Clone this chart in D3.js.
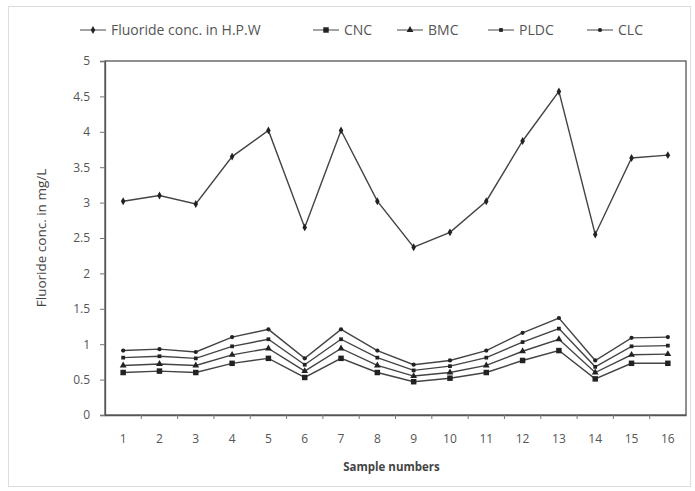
<!DOCTYPE html>
<html>
<head>
<meta charset="utf-8">
<script src="https://cdn.jsdelivr.net/npm/d3@7"></script>
<style>
  body { margin: 0; background: #fff; }
  .chart text { font-family: "Open Sans", "DejaVu Sans", sans-serif; fill: #555; }
</style>
</head>
<body>
<div class="chart"></div>
<script>
// sample numbers along the x axis
var samples = ["1", "2", "3", "4", "5", "6", "7", "8", "9", "10", "11", "12", "13", "14", "15", "16"];

// fluoride values (mg/L)
var hpw  = [3.02, 3.10, 2.98, 3.65, 4.02, 2.65, 4.02, 3.02, 2.37, 2.58, 3.02, 3.87, 4.57, 2.55, 3.63, 3.67];
var cnc  = [0.60, 0.62, 0.60, 0.73, 0.80, 0.53, 0.80, 0.60, 0.47, 0.52, 0.60, 0.77, 0.91, 0.51, 0.73, 0.73];
var bmc  = [0.70, 0.72, 0.70, 0.85, 0.94, 0.62, 0.94, 0.70, 0.55, 0.60, 0.70, 0.90, 1.07, 0.60, 0.85, 0.86];
var pldc = [0.81, 0.83, 0.80, 0.97, 1.07, 0.71, 1.07, 0.81, 0.63, 0.69, 0.81, 1.03, 1.22, 0.68, 0.97, 0.98];
var clc  = [0.91, 0.93, 0.89, 1.10, 1.21, 0.80, 1.21, 0.91, 0.71, 0.77, 0.91, 1.16, 1.37, 0.77, 1.09, 1.10];

var yTicks = [0, 0.5, 1, 1.5, 2, 2.5, 3, 3.5, 4, 4.5, 5];

var series = [
  { name: "Fluoride conc. in H.P.W", values: hpw,  symbol: d3.symbolDiamond,  size: 18 },
  { name: "CNC",  values: cnc,  symbol: d3.symbolSquare,   size: 30 },
  { name: "BMC",  values: bmc,  symbol: d3.symbolTriangle, size: 20 },
  { name: "PLDC", values: pldc, symbol: d3.symbolSquare,   size: 14 },
  { name: "CLC",  values: clc,  symbol: d3.symbolCircle,   size: 14 }
];

var width = 695, height = 491;
var margin = {top: 61, right: 9, bottom: 76, left: 105};
var w = width - margin.left - margin.right,
    h = height - margin.top - margin.bottom;

var svg = d3.select(".chart").append("svg")
  .attr("width", width)
  .attr("height", height);

// outer frame of the figure
svg.append("rect")
  .attr("x", 8.5).attr("y", 6.5)
  .attr("width", 682).attr("height", 480)
  .attr("fill", "#fff")
  .attr("stroke", "#bbb")
  .attr("stroke-dasharray", "1,1");

var g = svg.append("g")
  .attr("transform", "translate(" + margin.left + "," + margin.top + ")");

var x = d3.scaleBand().domain(samples).range([0, w]);
var y = d3.scaleLinear().domain([0, 5]).range([h, 0]);

// plot area border
g.append("rect")
  .attr("width", w).attr("height", h)
  .attr("fill", "none")
  .attr("stroke", "#555")
  .attr("stroke-width", 1.3);

// y axis
var yAxis = g.append("g")
  .call(d3.axisLeft(y).tickValues(yTicks).tickSize(5).tickPadding(10).tickFormat(d3.format("")));
yAxis.select(".domain").attr("stroke", "#555").attr("stroke-width", 1.3);
yAxis.selectAll(".tick line").attr("stroke", "#777");
yAxis.selectAll("text").attr("font-size", 12);

// x axis, ticks sit between the categories
var xAxis = g.append("g")
  .attr("transform", "translate(0," + h + ")")
  .call(d3.axisBottom(x).tickSize(0).tickPadding(19));
xAxis.select(".domain").attr("stroke", "#555").attr("stroke-width", 1.3);
xAxis.selectAll("text").attr("font-size", 12);

g.append("g")
  .selectAll("line")
  .data(samples.slice(1))
  .join("line")
  .attr("x1", function(d) { return x(d); })
  .attr("x2", function(d) { return x(d); })
  .attr("y1", h).attr("y2", h + 4)
  .attr("stroke", "#777");

// axis titles
svg.append("text")
  .attr("x", margin.left + w / 2 - 4)
  .attr("y", 471)
  .attr("text-anchor", "middle")
  .attr("font-size", 11.5)
  .attr("font-weight", "bold")
  .style("fill", "#444")
  .text("Sample numbers");

svg.append("text")
  .attr("transform", "translate(46,238) rotate(-90)")
  .attr("text-anchor", "middle")
  .attr("font-size", 13.5)
  .style("fill", "#444")
  .text("Fluoride conc. in mg/L");

// lines + markers
var line = d3.line()
  .x(function(d, i) { return x(samples[i]) + x.bandwidth() / 2; })
  .y(function(d) { return y(d); });

series.forEach(function(s) {
  g.append("path")
    .datum(s.values)
    .attr("fill", "none")
    .attr("stroke", "#444")
    .attr("stroke-width", 1.4)
    .attr("d", line);

  g.append("g")
    .selectAll("path")
    .data(s.values)
    .join("path")
    .attr("transform", function(d, i) {
      return "translate(" + (x(samples[i]) + x.bandwidth() / 2) + "," + y(d) + ")";
    })
    .attr("d", d3.symbol().type(s.symbol).size(s.size))
    .attr("fill", "#222");
});

// legend
var legendX = [80, 313, 397, 488, 587];
var legend = svg.append("g").attr("transform", "translate(0,30)");
series.forEach(function(s, i) {
  var lg = legend.append("g").attr("transform", "translate(" + legendX[i] + ",0)");
  lg.append("line")
    .attr("x1", 0).attr("x2", 26)
    .attr("stroke", "#666").attr("stroke-width", 1.2);
  lg.append("path")
    .attr("transform", "translate(13,0)")
    .attr("d", d3.symbol().type(s.symbol).size(s.size))
    .attr("fill", "#222");
  lg.append("text")
    .attr("x", 31).attr("y", 5)
    .attr("font-size", 14)
    .text(s.name);
});
</script>
</body>
</html>
